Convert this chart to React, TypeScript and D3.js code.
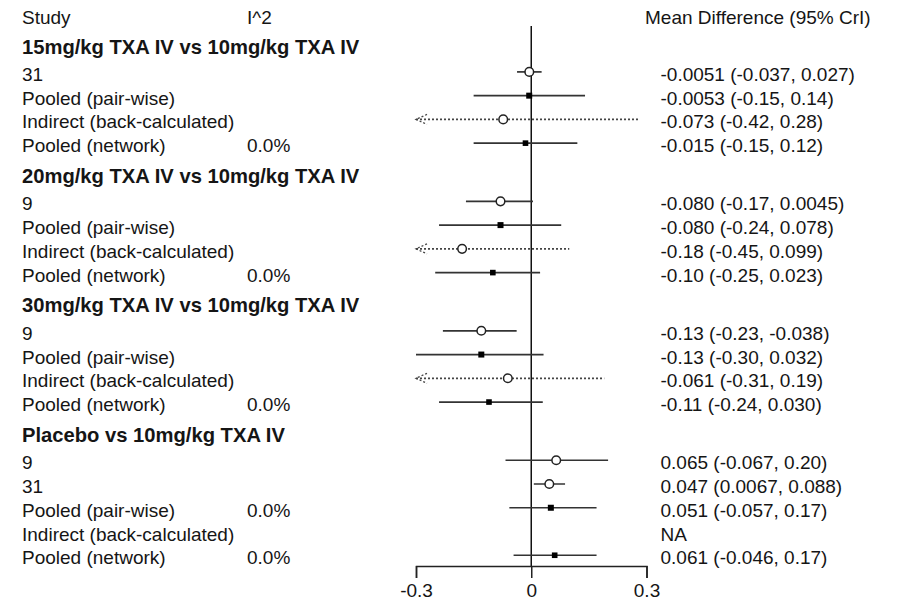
import React, { useEffect, useRef } from "react";
import * as d3 from "d3";

const groupTitles = [
  "15mg/kg TXA IV vs 10mg/kg TXA IV",
  "20mg/kg TXA IV vs 10mg/kg TXA IV",
  "30mg/kg TXA IV vs 10mg/kg TXA IV",
  "Placebo vs 10mg/kg TXA IV",
];
const rowGroup = [0, 0, 0, 0, 1, 1, 1, 1, 2, 2, 2, 2, 3, 3, 3, 3, 3];
const rowLabels = [
  "31", "Pooled (pair-wise)", "Indirect (back-calculated)", "Pooled (network)",
  "9", "Pooled (pair-wise)", "Indirect (back-calculated)", "Pooled (network)",
  "9", "Pooled (pair-wise)", "Indirect (back-calculated)", "Pooled (network)",
  "9", "31", "Pooled (pair-wise)", "Indirect (back-calculated)", "Pooled (network)",
];
const rowKind = [
  "study", "pooled", "indirect", "network",
  "study", "pooled", "indirect", "network",
  "study", "pooled", "indirect", "network",
  "study", "study", "pooled", "indirect", "network",
];
const rowI2: (number | null)[] = [
  null, null, null, 0,
  null, null, null, 0,
  null, null, null, 0,
  null, null, 0, null, 0,
];
const rowMean: (number | null)[] = [
  -0.0051, -0.0053, -0.073, -0.015,
  -0.08, -0.08, -0.18, -0.1,
  -0.13, -0.13, -0.061, -0.11,
  0.065, 0.047, 0.051, null, 0.061,
];
const rowLower: (number | null)[] = [
  -0.037, -0.15, -0.42, -0.15,
  -0.17, -0.24, -0.45, -0.25,
  -0.23, -0.3, -0.31, -0.24,
  -0.067, 0.0067, -0.057, null, -0.046,
];
const rowUpper: (number | null)[] = [
  0.027, 0.14, 0.28, 0.12,
  0.0045, 0.078, 0.099, 0.023,
  -0.038, 0.032, 0.19, 0.03,
  0.2, 0.088, 0.17, null, 0.17,
];
const axisTicks = [-0.3, 0, 0.3];
const xDomain = [-0.3, 0.3];

const FONT = "'Liberation Sans', Arial, sans-serif";
const FS = 19;
const FS_TITLE = 20.2;
const TEXT = "#151515";
const LINE = "#333";

const loc = d3.formatLocale({
  decimal: ".",
  thousands: ",",
  grouping: [3],
  currency: ["$", ""],
  minus: "-",
});
const fmt2 = loc.format(".2g");
const fmtPct = loc.format(".1%");
const fmtTick = (v: number) => (v === 0 ? "0" : loc.format(".1f")(v));

export default function App() {
  const axisRef = useRef<SVGGElement>(null);
  const x = d3.scaleLinear().domain(xDomain).range([416, 646.5]);
  const axisY = 566;

  // layout of rows
  const titleY: number[] = [];
  const rowY: number[] = [];
  let y = 46.3;
  let prevGroup = -1;
  rowGroup.forEach((g, i) => {
    if (g !== prevGroup) {
      if (prevGroup >= 0) y += 32.6;
      titleY[g] = y;
      y += 25.6;
      prevGroup = g;
    } else {
      y += 23.75;
    }
    rowY[i] = y;
  });

  useEffect(() => {
    if (!axisRef.current) return;
    const g = d3.select(axisRef.current);
    g.selectAll("*").remove();
    g.call(
      d3
        .axisBottom(x)
        .tickValues(axisTicks)
        .tickFormat((d: any) => fmtTick(+d))
        .tickSize(12)
        .tickSizeOuter(12)
        .tickPadding(6)
    );
    g.select(".domain").attr("stroke", "#222").attr("stroke-width", 1.5);
    g.selectAll(".tick line").attr("stroke", "#222").attr("stroke-width", 1.5);
    g.selectAll(".tick text")
      .attr("font-size", FS)
      .attr("font-family", FONT)
      .attr("fill", TEXT);
  }, []);

  const [lo, hi] = xDomain;

  return (
    <svg
      width={897}
      height={606}
      style={{ position: "absolute", left: 0, top: 0, background: "#fff" }}
      fontFamily={FONT}
      fontSize={FS}
    >
      <rect width={897} height={606} fill="#fff" />
      {/* headers */}
      <text x={22} y={24} fill={TEXT}>Study</text>
      <text x={247} y={24} fill={TEXT}>I^2</text>
      <text x={645} y={24} fill={TEXT}>Mean Difference (95% CrI)</text>

      {/* zero line */}
      <line x1={x(0)} x2={x(0)} y1={26} y2={axisY} stroke="#111" strokeWidth={1.5} />

      {groupTitles.map((t, g) => (
        <text key={"t" + g} x={22} y={titleY[g] + 7.2} fill={TEXT} fontWeight="bold" fontSize={FS_TITLE}>
          {t}
        </text>
      ))}

      {rowLabels.map((lab, i) => {
        const cy = rowY[i];
        const m = rowMean[i];
        const l = rowLower[i];
        const u = rowUpper[i];
        const kind = rowKind[i];
        const dotted = kind === "indirect";
        const stroke = dotted ? "#444" : LINE;
        const dash = dotted ? "2,2" : undefined;
        const txt =
          m == null || l == null || u == null
            ? "NA"
            : `${fmt2(m)} (${fmt2(l)}, ${fmt2(u)})`;
        const i2 = rowI2[i];
        let mark: React.ReactNode = null;
        if (m != null && l != null && u != null) {
          const x1 = x(Math.max(l, lo));
          const x2 = x(Math.min(u, hi));
          const parts: React.ReactNode[] = [
            <line key="ci" x1={x1} x2={x2} y1={cy} y2={cy} stroke={stroke} strokeWidth={1.7} strokeDasharray={dash} />,
          ];
          if (l < lo) {
            parts.push(
              <path key="al" d={`M${x1 + 11},${cy - 5}L${x1},${cy}L${x1 + 11},${cy + 5}`} fill="none" stroke={stroke} strokeWidth={1.3} strokeDasharray={dash} />
            );
          }
          if (u > hi) {
            parts.push(
              <path key="ar" d={`M${x2 - 11},${cy - 5}L${x2},${cy}L${x2 - 11},${cy + 5}`} fill="none" stroke={stroke} strokeWidth={1.3} strokeDasharray={dash} />
            );
          }
          if (kind === "study" || kind === "indirect") {
            parts.push(<circle key="c" cx={x(m)} cy={cy} r={4.3} fill="#fff" stroke="#222" strokeWidth={1.5} />);
          } else {
            const s = kind === "pooled" ? 6 : 5.6;
            parts.push(<rect key="s" x={x(m) - s / 2} y={cy - s / 2} width={s} height={s} fill="#000" />);
          }
          mark = parts;
        }
        return (
          <g key={"r" + i}>
            <text x={22} y={cy + 9} fill={TEXT}>{lab}</text>
            {i2 != null && <text x={247} y={cy + 9} fill={TEXT}>{fmtPct(i2)}</text>}
            <text x={660.5} y={cy + 9} fill={TEXT}>{txt}</text>
            {mark}
          </g>
        );
      })}

      <g ref={axisRef} transform={`translate(0,${axisY})`} />
    </svg>
  );
}
